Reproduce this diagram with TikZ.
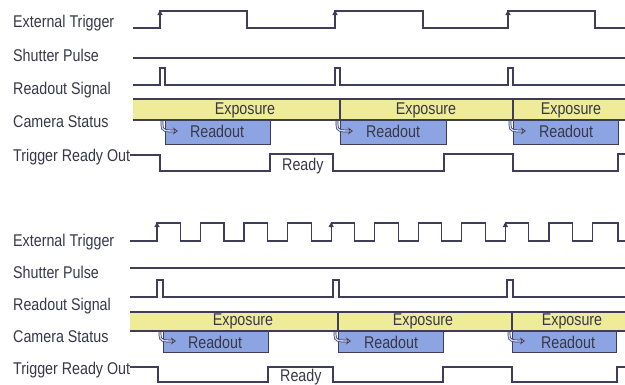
\documentclass[tikz,border=0pt]{standalone}
\usepackage{fontspec}
\setmainfont[FakeStretch=0.84]{Liberation Sans}
\usetikzlibrary{arrows.meta}
\definecolor{sigc}{RGB}{62,62,92}
\definecolor{txtc}{RGB}{55,55,72}
\definecolor{bandc}{RGB}{238,236,152}
\definecolor{boxc}{RGB}{140,165,226}
\definecolor{hookc}{RGB}{200,215,245}
\tikzset{
  sig/.style={draw=sigc, line width=1.1pt, line join=miter},
  lbl/.style={anchor=base west, inner sep=0pt, text=txtc, font=\fontsize{17}{19}\selectfont},
  intxt/.style={inner sep=0pt, text=txtc, font=\fontsize{17}{19}\selectfont},
  bandfill/.style={fill=bandc, draw=none},
  rbox/.style={fill=boxc, draw=sigc, line width=1pt},
  trigarrow/.style={draw=sigc, line width=1.1pt, -{Triangle[length=5pt,width=5pt]}},
  hookarrow/.style={draw=sigc, double=hookc, double distance=1.4pt, line width=0.7pt,
    -{Stealth[length=5pt,width=7pt,open,fill=hookc]}}
}
\begin{document}
\begin{tikzpicture}[x=1pt,y=-1pt]
\useasboundingbox (0,0) rectangle (625,384);

% ================= TOP PANEL =================
\node[lbl] (et1)  at (13,27.5) {External Trigger};
\node[lbl] (sp1)  at (13,61)   {Shutter Pulse};
\node[lbl] (rs1)  at (13,94)   {Readout Signal};
\node[lbl] (cs1)  at (13,127)  {Camera Status};
\node[lbl] (tro1) at (13,161)  {Trigger Ready Out};

% External trigger
\draw[sig] (133,28) -- (160,28) -- (160,11) -- (247,11) -- (247,28) -- (335,28) -- (335,11)
  -- (423,11) -- (423,28) -- (508,28) -- (508,11) -- (595,11) -- (595,28) -- (625,28);
\foreach \x in {160,335,508} \draw[trigarrow] (\x,20) -- (\x,10);

% Shutter pulse
\draw[sig] (133,58) -- (625,58);

% Readout signal
\draw[sig] (133,85) -- (160,85) -- (160,68) -- (165,68) -- (165,85) -- (335,85) -- (335,68)
  -- (340,68) -- (340,85) -- (508,85) -- (508,68) -- (513,68) -- (513,85) -- (625,85);

% Camera status band
\path[bandfill] (133,99) rectangle (625,120);
\draw[sig] (133,99) -- (625,99);
\draw[sig] (133,120) -- (625,120);
\draw[sig] (340,99) -- (340,120);
\draw[sig] (513,99) -- (513,120);
\node[intxt] (ex1a) at (245,110) {Exposure};
\node[intxt] (ex1b) at (426,110) {Exposure};
\node[intxt] (ex1c) at (571,110) {Exposure};

% Readout boxes
\draw[rbox] (165,120) rectangle (270,144);
\draw[rbox] (340,120) rectangle (446,144);
\draw[rbox] (513,120) rectangle (618,144);
\node[intxt] (rd1a) at (217,131.5) {Readout};
\node[intxt] (rd1b) at (393,131.5) {Readout};
\node[intxt] (rd1c) at (566,131.5) {Readout};
\foreach \x in {162,337,510}
  \draw[hookarrow] (\x,121) -- (\x,125) .. controls (\x,131) and (\x+3,131) .. (\x+16,131);

% Trigger ready out
\draw[sig] (tro1.east |- 0,155) -- (160,155) -- (160,171) -- (270,171) -- (270,154) -- (333,154)
  -- (333,171) -- (444,171) -- (444,154) -- (513,154) -- (513,171) -- (618,171) -- (618,154) -- (625,154);
\node[lbl] (rdy1) at (282,170) {Ready};

% ================= BOTTOM PANEL =================
\node[lbl] (et2)  at (13,246) {External Trigger};
\node[lbl] (sp2)  at (13,278) {Shutter Pulse};
\node[lbl] (rs2)  at (13,310) {Readout Signal};
\node[lbl] (cs2)  at (13,342) {Camera Status};
\node[lbl] (tro2) at (13,374) {Trigger Ready Out};

% External trigger (pulse train)
\draw[sig] (130,241) -- (157,241)
  \foreach \r [evaluate=\r as \f using \r+23.5] in {157,200.5,244,287.7,331.2,374.8,418.3,461.9,505.4,549}
    { -- (\r,241) -- (\r,223) -- (\f,223) -- (\f,241) }
  -- (592.5,241) -- (592.5,223) -- (618,223) -- (618,241) -- (625,241);
\foreach \x in {157,331.2,505.4} \draw[trigarrow] (\x,232) -- (\x,222);

% Shutter pulse
\draw[sig] (130,268) -- (625,268);

% Readout signal
\draw[sig] (130,297) -- (157,297) -- (157,280) -- (163,280) -- (163,297) -- (333,297) -- (333,280)
  -- (339,280) -- (339,297) -- (507,297) -- (507,280) -- (513,280) -- (513,297) -- (625,297);

% Camera status band
\path[bandfill] (130,312) rectangle (625,331);
\draw[sig] (130,312) -- (625,312);
\draw[sig] (130,331) -- (625,331);
\draw[sig] (338,312) -- (338,331);
\draw[sig] (512,312) -- (512,331);
\node[intxt] (ex2a) at (243,321) {Exposure};
\node[intxt] (ex2b) at (423,321) {Exposure};
\node[intxt] (ex2c) at (572,321) {Exposure};

% Readout boxes
\draw[rbox] (163,331) rectangle (268,352);
\draw[rbox] (338,331) rectangle (443,352);
\draw[rbox] (512,331) rectangle (616,352);
\node[intxt] (rd2a) at (215,342) {Readout};
\node[intxt] (rd2b) at (391,342) {Readout};
\node[intxt] (rd2c) at (568,342) {Readout};
\foreach \x in {160,335,509}
  \draw[hookarrow] (\x,332) -- (\x,335) .. controls (\x,341) and (\x+3,341) .. (\x+16,341);

% Trigger ready out
\draw[sig] (tro2.east |- 0,367) -- (158,367) -- (158,382) -- (268,382) -- (268,367) -- (333,367)
  -- (333,382) -- (443,382) -- (443,367) -- (512,367) -- (512,382) -- (617,382) -- (617,367) -- (625,367);
\node[lbl] (rdy2) at (280,381.5) {Ready};
\end{tikzpicture}
\end{document}
